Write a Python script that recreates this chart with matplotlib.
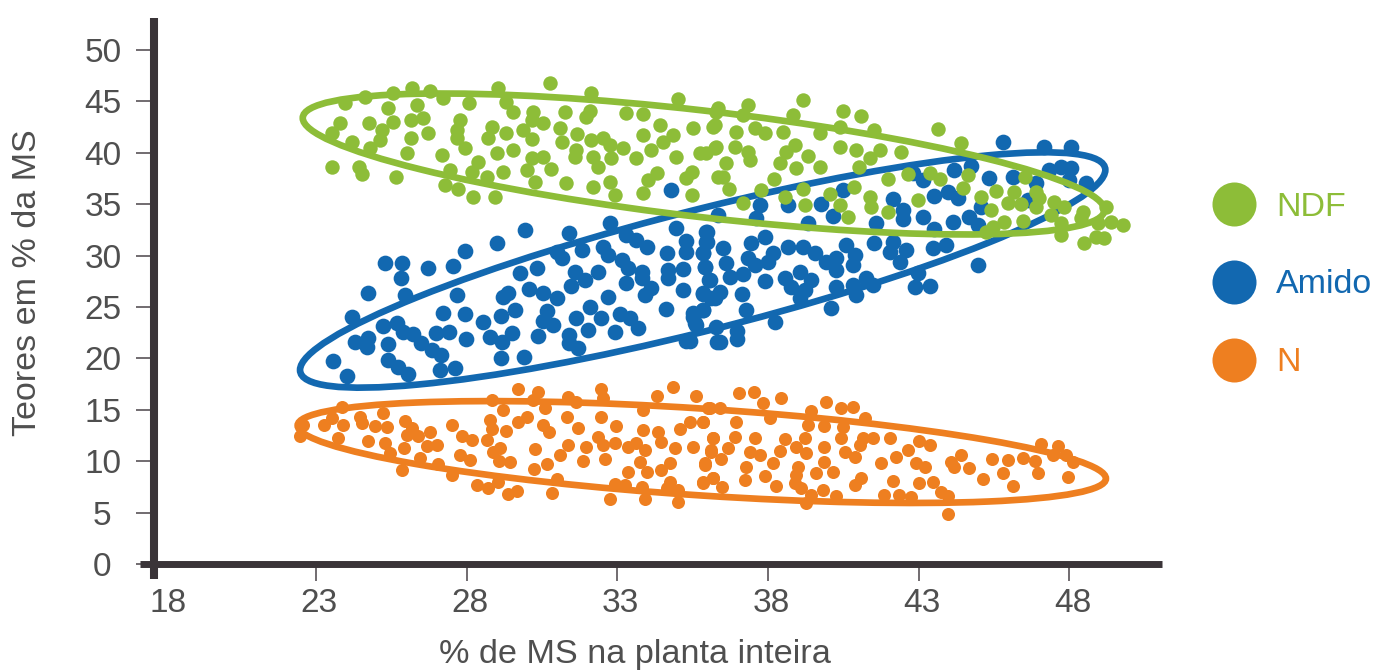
import matplotlib
matplotlib.use("Agg")
import matplotlib.pyplot as plt
from matplotlib.lines import Line2D
from matplotlib.patches import Ellipse
from matplotlib.transforms import Affine2D, ScaledTranslation

plt.rcParams['font.family'] = ['Liberation Sans', 'DejaVu Sans']

x_ticks = [18, 23, 28, 33, 38, 43, 48]
y_ticks = [0, 5, 10, 15, 20, 25, 30, 35, 40, 45, 50]
x_label = "% de MS na planta inteira"
y_label = "Teores em % da MS"
series_names = ["NDF", "Amido", "N"]

ndf_x = [23.52,24.41,24.52,25.65,23.78,23.52,24.18,24.79,24.77,25.18,25.12,25.38,25.54,23.96,24.63,25.54,26.17,26.78,26.34,26.14,26.56,26.15,26.73,26.01,27.17,27.22,27.78,27.67,27.67,27.94,28.38,29.01,29.52,28.83,28.72,29.32,29.88,30.15,29.05,29.32,28.09,29.52,30.21,30.54,30.15,30.78,31.27,32.14,32.09,31.97,31.09,31.15,31.67,32.14,32.53,32.75,31.64,31.59,32.19,32.36,32.8,33.19,33.63,34.13,34.96,35.73,36.23,33.3,33.85,34.41,35.01,35.51,36.17,36.28,33.85,34.52,34.85,30.54,30.15,30.81,29.99,30.26,29.21,28.66,28.16,27.44,27.28,27.72,28.22,28.94,31.31,32.2,32.75,32.91,33.85,34.02,34.3,35.46,35.29,35.46,36.34,
         36.34,37.33,37.17,39.16,40.48,41.09,38.82,40.37,39.71,41.53,43.63,44.41,36.23,36.95,37.55,37.89,38.49,38.88,40.37,40.92,41.7,42.42,36.28,36.89,37.33,35.95,36.61,37.39,38.6,39.32,38.38,38.94,39.71,41.37,41.03,36.5,36.7,38.18,37.77,38.55,37.17,39.16,39.24,40.06,40.37,40.65,40.84,41.37,41.42,41.97,41.97,42.64,43.36,43.69,44.63,44.46,42.97,45.07,45.57,45.4,45.95,46.4,46.51,46.17,46.89,47.0,46.89,47.5,47.83,47.39,48.44,48.38,49.21,49.38,49.77,48.94,47.72,47.72,48.88,48.49,49.16,46.45,45.84,45.46,45.23]
ndf_y = [38.58,38.65,37.93,37.61,42.86,41.89,41.08,40.43,42.93,42.21,41.24,44.39,43.02,44.81,45.46,45.78,46.27,46.04,44.65,43.19,43.35,41.47,41.89,39.94,39.78,45.29,43.19,42.21,41.47,40.5,39.13,39.94,40.27,42.54,41.4,41.89,42.21,41.31,46.27,44.97,44.81,44.0,44.0,42.86,43.19,46.82,43.93,45.85,44.09,43.51,42.37,41.08,41.82,41.24,41.4,40.75,40.27,39.55,39.55,38.65,39.46,40.43,39.46,40.27,39.55,39.94,40.43,43.83,43.77,42.7,45.23,42.37,42.54,44.0,41.73,41.08,41.73,39.62,39.46,38.39,38.32,37.19,38.16,37.61,38.16,38.32,36.86,36.44,35.66,35.73,37.03,36.64,37.19,35.89,36.05,37.35,38.0,38.16,37.51,35.89,37.67,
         44.33,44.65,43.68,45.14,44.1,43.58,43.68,42.54,41.89,42.22,42.32,40.92,42.7,42.06,42.38,41.89,42.06,40.76,40.6,40.27,40.27,40.05,40.6,40.6,40.11,39.95,38.98,39.3,40.05,39.72,38.98,38.49,38.65,39.46,38.59,37.61,36.48,37.45,36.38,35.67,35.08,36.45,34.92,35.99,34.92,33.72,36.71,35.67,34.76,34.27,37.42,37.94,38.0,37.42,37.84,36.54,35.41,35.73,36.28,34.44,35.08,35.02,37.68,36.22,36.22,35.57,34.7,35.25,34.76,33.95,34.27,33.63,34.76,33.3,32.98,33.14,33.14,32.0,31.84,31.19,31.68,33.4,33.3,32.81,32.33]

amido_x = [24.74,25.29,25.86,25.82,26.73,27.56,27.96,29.0,29.93,25.95,24.21,23.58,24.02,24.3,24.74,24.7,25.4,25.23,25.7,25.9,26.21,26.5,26.84,27.14,25.4,25.73,26.06,27.11,27.61,26.98,27.42,27.98,27.2,27.96,28.55,27.67,29.13,29.6,29.21,29.38,28.77,29.16,29.49,30.35,29.13,29.91,31.4,31.4,31.7,32.03,32.92,33.69,33.41,33.08,32.44,31.64,32.09,30.87,30.54,30.67,32.69,30.98,30.54,30.08,29.77,30.32,31.45,31.92,32.36,31.59,31.15,30.98,31.4,31.84,32.51,32.69,33.14,33.36,33.8,33.3,33.8,34.13,33.91,34.61,35.18,34.68,34.68,35.18,35.9,36.04,35.84,36.23,35.84,35.51,35.57,35.29,36.29,34.63,35.29,35.29,35.84,35.96,35.96,34.96,32.75,33.3,33.63,33.97,34.79,
            45.79,47.17,48.05,47.33,47.72,48.05,48.55,47.98,44.18,44.74,45.32,46.12,46.89,46.62,43.13,42.8,40.48,37.72,38.66,39.76,40.15,36.34,37.61,39.32,42.14,43.52,43.96,44.3,42.47,43.13,41.59,44.13,44.68,44.96,45.07,43.52,42.47,35.95,37.89,
            35.95,36.51,35.84,36.62,35.9,36.06,36.73,37.17,37.44,37.33,37.56,38.0,38.16,38.66,39.16,39.54,39.93,40.26,40.26,40.82,40.87,40.59,37.89,38.55,39.05,39.43,38.77,39.21,39.05,40.26,40.82,40.93,41.26,41.48,40.1,38.24,37.28,37.14,36.39,35.84,36.12,35.84,35.51,35.62,36.28,36.98,36.98,36.39,35.4,41.53,42.14,42.03,42.58,42.39,42.97,42.86,43.36,43.47,43.91,44.96]
amido_y = [26.4,29.32,29.25,27.86,28.83,28.99,30.48,31.26,32.49,26.17,24.0,19.78,18.29,21.57,21.96,21.15,21.37,23.16,23.42,22.6,22.38,21.47,20.82,20.33,19.85,19.2,18.49,18.88,19.04,22.51,22.6,21.86,24.45,24.32,23.58,26.17,24.16,24.71,25.94,26.33,22.05,21.63,22.44,22.18,20.01,20.17,22.28,21.47,20.98,22.77,22.6,22.93,23.9,24.32,23.9,23.9,24.97,23.25,23.67,24.65,26.01,25.85,26.33,26.72,28.28,28.83,27.05,27.63,28.38,28.38,29.74,30.39,32.17,30.55,30.87,30.06,29.58,28.77,28.44,27.37,27.79,26.82,26.17,24.78,26.66,28.6,27.79,28.67,28.86,27.63,26.33,25.85,24.71,24.39,23.42,21.73,21.63,30.22,30.39,31.46,30.22,32.33,31.36,32.66,33.14,32.0,31.52,30.87,36.38,
            41.08,40.53,40.53,38.33,38.59,38.49,37.03,37.36,38.33,38.72,37.52,37.68,37.03,35.41,37.36,38.0,36.38,34.92,34.92,35.02,33.85,33.95,33.63,33.14,35.47,35.8,36.22,35.57,34.44,33.79,33.14,33.3,33.72,32.98,34.76,32.55,33.53,32.33,31.84,
            31.36,30.71,30.22,29.25,28.86,27.63,27.95,28.18,31.2,29.74,29.09,29.41,30.22,30.87,30.87,30.22,29.41,28.6,29.74,29.09,30.06,31.03,27.57,27.79,28.44,27.63,26.98,26.66,25.85,26.98,27.14,26.17,27.79,27.14,24.94,23.58,24.71,26.24,26.5,26.27,25.91,24.71,24.06,23.25,23.09,22.67,21.89,21.63,21.7,31.2,31.36,30.32,30.55,29.35,28.34,26.98,27.05,30.71,31.03,29.09]

n_x = [22.47,22.58,23.25,23.85,23.52,23.89,23.74,24.46,24.52,24.96,25.23,25.35,24.74,25.29,25.46,25.93,25.84,25.95,26.17,26.01,26.39,26.78,27.5,26.67,27.0,27.83,28.16,28.66,27.78,28.11,26.45,27.06,27.52,28.33,28.72,29.05,29.38,29.66,30.82,30.98,28.77,28.83,29.32,28.83,29.21,29.71,30.37,30.21,30.59,29.99,29.71,30.54,30.74,31.34,31.7,31.37,31.64,32.47,32.51,32.47,32.97,32.36,32.53,32.92,33.36,33.63,33.85,34.35,33.85,34.3,34.85,35.62,35.07,35.4,35.84,36.07,36.18,35.51,34.46,34.9,33.91,30.26,31.35,31.95,31.11,31.87,32.58,30.65,30.24,29.43,29.08,28.88,29.1,33.75,33.36,33.97,34.46,34.76,35.9,36.12,35.84,36.18,32.92,33.25,33.8,33.91,32.77,34.74,35.02,35.02,34.63,
        37.03,37.53,38.42,39.91,40.43,40.81,41.2,39.43,39.32,37.83,38.05,36.01,36.39,36.95,35.84,39.87,40.48,36.17,36.89,37.55,38.55,39.21,36.67,36.12,37.39,37.72,38.16,38.38,38.94,39.27,36.45,35.9,37.28,37.89,37.22,36.17,35.84,36.48,38.27,38.99,38.94,38.88,39.1,39.87,39.87,40.43,40.54,41.04,41.15,41.48,42.03,40.87,42.64,43.02,43.36,42.25,41.75,42.91,43.19,39.6,40.15,41.09,40.87,39.82,39.43,39.27,40.24,42.14,41.86,42.36,42.75,43.02,43.47,43.74,43.98,43.98,44.41,44.07,44.68,44.18,45.12,45.43,45.79,46.12,45.95,46.45,46.84,46.95,47.94,47.06,47.61,47.45,47.89,48.11]
n_y = [12.49,13.53,13.53,15.31,14.17,13.53,12.29,14.34,13.69,13.46,14.66,13.36,12.0,11.74,10.77,11.32,9.15,13.95,13.2,12.55,12.49,12.88,13.53,11.52,11.58,12.49,12.07,12.07,10.6,10.12,10.28,9.7,8.66,7.69,7.37,8.01,6.81,7.11,6.88,8.27,14.01,13.14,12.94,15.96,14.99,16.99,16.77,15.96,15.15,14.34,13.85,13.53,12.81,14.34,13.27,16.28,15.8,17.03,16.12,14.34,13.46,12.39,11.58,11.74,11.42,11.74,13.04,12.88,14.99,16.38,17.26,16.38,13.14,13.79,13.85,15.15,12.23,11.42,11.91,11.26,11.09,11.19,11.58,11.42,10.6,10.06,10.19,9.73,9.25,9.89,10.06,10.87,11.32,9.89,8.92,8.99,9.15,9.86,9.63,10.93,7.95,8.38,7.75,7.69,7.53,6.33,6.3,7.95,7.2,6.0,7.37,
        16.67,16.7,16.12,15.73,15.21,15.24,14.17,14.89,13.53,15.63,14.17,15.15,15.15,13.85,13.85,13.46,13.36,12.23,12.33,12.23,12.16,12.23,11.32,11.09,10.87,10.61,9.8,10.96,11.42,10.77,10.22,9.8,9.41,8.58,8.18,8.38,7.85,7.53,7.59,9.47,8.66,7.85,7.43,9.89,11.42,12.23,10.93,11.58,12.23,12.23,12.23,10.45,11.09,12.0,11.58,10.45,9.8,9.8,9.47,8.82,8.99,8.34,7.69,7.2,6.72,5.91,6.65,8.08,6.72,6.72,6.55,7.85,8.01,6.98,6.65,4.84,10.61,9.89,9.38,9.47,8.27,10.22,8.82,7.63,10.12,10.28,10.02,8.82,8.5,11.68,11.52,10.61,10.61,9.89]

# each envelope: centre x, centre y, horizontal reach, its y change, vertical half-height
ndf_env = [35.86, 38.91, 13.30, -4.47, 5.20]
amido_env = [35.83, 28.60, 13.36, 9.73, 6.03]
n_env = [35.80, 10.89, 13.41, -2.58, 4.23]

GREEN, BLUE, ORANGE = "#8DBD38", "#1268B0", "#EE7F20"
DARK, TEXT = "#3A3438", "#4F4F4F"

fig = plt.figure(figsize=(13.75, 6.71), dpi=100, facecolor="white")
ax = fig.add_axes([140/1375, (671-579)/671, (1162-140)/1375, (579-18)/671])
ax.set_xlim(17.16, 51.07)
ax.set_ylim(-1.46, 53.11)


def envelope(env, color, z):
    cx, cy, ux, uy, vy = env
    tr = Affine2D.from_values(ux, uy, 0, vy, cx, cy) + ax.transData
    ax.add_patch(Ellipse((0, 0), 2, 2, transform=tr, fill=False, ec=color, lw=4.8, zorder=z))


ax.scatter(n_x, n_y, s=88, color=ORANGE, lw=0, zorder=2, clip_on=False)
envelope(n_env, ORANGE, 2.1)
ax.scatter(amido_x, amido_y, s=128, color=BLUE, lw=0, zorder=3, clip_on=False)
envelope(amido_env, BLUE, 3.1)
ax.scatter(ndf_x, ndf_y, s=108, color=GREEN, lw=0, zorder=4, clip_on=False)
envelope(ndf_env, GREEN, 4.1)

for s in ("top", "right"):
    ax.spines[s].set_visible(False)
ax.spines["left"].set_position(("data", 17.63))
ax.spines["bottom"].set_position(("data", 0))
ax.spines["left"].set_linewidth(5.8)
ax.spines["bottom"].set_linewidth(5.0)
for s in ("left", "bottom"):
    ax.spines[s].set_color(DARK)
    ax.spines[s].set_capstyle("butt")
    ax.spines[s].set_zorder(6)

ax.set_xticks(x_ticks, [str(v) for v in x_ticks])
ax.set_yticks(y_ticks, [str(v) for v in y_ticks])
ax.tick_params(axis="x", length=12.5, width=1.3, color="#666064", pad=5, labelsize=24, labelcolor=TEXT)
ax.tick_params(axis="y", length=13, width=1.3, color="#666064", pad=10.5, labelsize=24, labelcolor=TEXT)
ax.xaxis.get_major_ticks()[0].tick1line.set_visible(False)

# the printed labels sit slightly off their ticks
for lab in ax.get_xticklabels():
    lab.set_transform(lab.get_transform() + ScaledTranslation(3/100, 0, fig.dpi_scale_trans))
for lab, v in zip(ax.get_yticklabels(), y_ticks):
    if v < 10:
        lab.set_transform(lab.get_transform() + ScaledTranslation(-10/100, 0, fig.dpi_scale_trans))

fig.text(635/1375, 1-655/671, x_label, ha="center", va="center", fontsize=24.7, color=TEXT)
fig.text(28/1375, 1-283/671, y_label, ha="center", va="center", rotation=90, fontsize=24.5, color=TEXT)

handles = [Line2D([], [], ls="", marker="o", ms=31.7, mfc=c, mec="none") for c in (GREEN, BLUE, ORANGE)]
ax.legend(handles, series_names, loc="center left", bbox_to_anchor=(1212/1375, 1-285/671),
          bbox_transform=fig.transFigure, frameon=False, fontsize=24.5, handlelength=1.294,
          handletextpad=0.59, labelspacing=1.38, borderpad=0, borderaxespad=0,
          labelcolor=[GREEN, BLUE, ORANGE], numpoints=1)

fig.savefig("out.png", dpi=100, facecolor="white")
